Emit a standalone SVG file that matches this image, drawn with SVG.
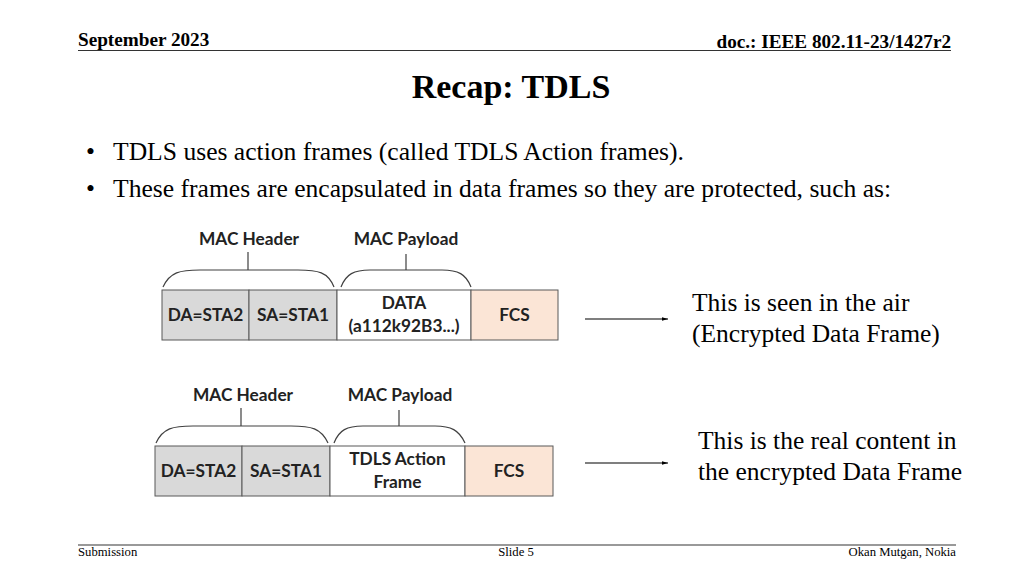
<svg xmlns="http://www.w3.org/2000/svg" width="1024" height="576" viewBox="0 0 1024 576">
<defs>
<style>
.hdr{font-family:"Liberation Serif",serif;font-weight:bold;font-size:19.2px;fill:#000}
.ttl{font-family:"Liberation Serif",serif;font-weight:bold;font-size:34px;fill:#000}
.bul{font-family:"Liberation Serif",serif;font-size:25.6px;fill:#000}
.ftr{font-family:"Liberation Serif",serif;font-size:12.7px;fill:#000}
.lbl{font-family:Lato,"Liberation Sans",sans-serif;font-weight:bold;font-size:17.3px;fill:#222}
.cell{font-family:Lato,"Liberation Sans",sans-serif;font-weight:bold;font-size:17.3px;fill:#222}
.side{font-family:"Liberation Serif",serif;font-size:25.5px;fill:#000}
.g{fill:#d9d9d9;stroke:#595959;stroke-width:1}
.w{fill:#ffffff;stroke:#595959;stroke-width:1}
.o{fill:#fbe5d6;stroke:#595959;stroke-width:1}
.br{fill:none;stroke:#404040;stroke-width:1.2}
.ar{stroke:#000;stroke-width:1.2;fill:none}
</style>
<marker id="ah" viewBox="0 0 10 10" refX="10" refY="5" markerWidth="6" markerHeight="6" orient="auto" markerUnits="userSpaceOnUse">
<path d="M0,2 L10,5 L0,8 z" fill="#000"/>
</marker>
</defs>
<rect width="1024" height="576" fill="#fff"/>

<g id="header">
<text class="hdr" x="78" y="46">September 2023</text>
<text class="hdr" x="951" y="48" text-anchor="end">doc.: IEEE 802.11-23/1427r2</text>
<line x1="78" y1="50.5" x2="951" y2="50.5" stroke="#333" stroke-width="1"/>
</g>

<g id="title"><text class="ttl" x="511" y="98" text-anchor="middle">Recap: TDLS</text></g>

<g id="bullets">
<text class="bul" x="86" y="160">•</text>
<text class="bul" x="113" y="160">TDLS uses action frames (called TDLS Action frames).</text>
<text class="bul" x="86" y="197">•</text>
<text class="bul" x="113" y="197">These frames are encapsulated in data frames so they are protected, such as:</text>
</g>

<g id="frame1">
<text class="lbl" x="249" y="245" text-anchor="middle">MAC Header</text>
<text class="lbl" x="406" y="245" text-anchor="middle">MAC Payload</text>
<path class="br" d="M163,287 C170,272 180,270 200,270 L298,270 C318,270 328,272 334,287 M248,252 L248,270"/>
<path class="br" d="M341,287 C346,274 354,270 370,270 L442,270 C458,270 466,274 471,287 M406,254 L406,270"/>
<rect class="g" x="162" y="290" width="87" height="50"/>
<rect class="g" x="249" y="290" width="88" height="50"/>
<rect class="w" x="337" y="290" width="134" height="50"/>
<rect class="o" x="471" y="290" width="87" height="50"/>
<text class="cell" x="205.5" y="321" text-anchor="middle">DA=STA2</text>
<text class="cell" x="293" y="321" text-anchor="middle">SA=STA1</text>
<text class="cell" x="404" y="309" text-anchor="middle">DATA</text>
<text class="cell" x="404" y="332" text-anchor="middle">(a112k92B3...)</text>
<text class="cell" x="514.5" y="321" text-anchor="middle">FCS</text>
</g>

<g id="frame2">
<text class="lbl" x="243" y="401" text-anchor="middle">MAC Header</text>
<text class="lbl" x="400" y="401" text-anchor="middle">MAC Payload</text>
<path class="br" d="M156,443 C163,428 173,426 193,426 L291,426 C311,426 321,428 328,443 M241,408 L241,426"/>
<path class="br" d="M334,443 C339,430 347,426 363,426 L435,426 C451,426 459,430 465,443 M399,410 L399,426"/>
<rect class="g" x="155" y="446" width="87" height="50"/>
<rect class="g" x="242" y="446" width="88" height="50"/>
<rect class="w" x="330" y="446" width="135" height="50"/>
<rect class="o" x="465" y="446" width="88" height="50"/>
<text class="cell" x="198.5" y="477" text-anchor="middle">DA=STA2</text>
<text class="cell" x="286" y="477" text-anchor="middle">SA=STA1</text>
<text class="cell" x="397.5" y="465" text-anchor="middle">TDLS Action</text>
<text class="cell" x="397.5" y="488" text-anchor="middle">Frame</text>
<text class="cell" x="509" y="477" text-anchor="middle">FCS</text>
</g>

<g id="connectors">
<line class="ar" x1="585" y1="319" x2="668" y2="319" marker-end="url(#ah)"/>
<line class="ar" x1="585" y1="463" x2="668" y2="463" marker-end="url(#ah)"/>
</g>

<g id="note1">
<text class="side" x="692" y="311">This is seen in the air</text>
<text class="side" x="692" y="342">(Encrypted Data Frame)</text>
</g>
<g id="note2">
<text class="side" x="698" y="449">This is the real content in</text>
<text class="side" x="698" y="480">the encrypted Data Frame</text>
</g>

<g id="footer">
<line x1="78" y1="545" x2="956" y2="545" stroke="#777" stroke-width="1.5"/>
<text class="ftr" x="78" y="556">Submission</text>
<text class="ftr" x="516" y="556" text-anchor="middle">Slide 5</text>
<text class="ftr" x="956" y="556" text-anchor="end">Okan Mutgan, Nokia</text>
</g>
</svg>
